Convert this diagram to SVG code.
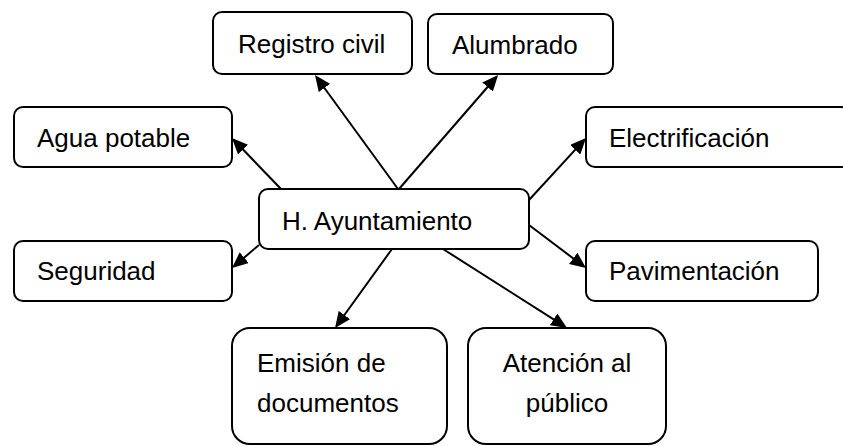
<svg xmlns="http://www.w3.org/2000/svg" width="843" height="446" viewBox="0 0 843 446">
<style>
.box{fill:#fff;stroke:#000;stroke-width:2}
.lbl{font-family:"Liberation Sans",Arial,sans-serif;font-size:26px;fill:#000}
.mid{text-anchor:middle}
.con{stroke:#000;stroke-width:2;fill:none;marker-end:url(#ah)}
</style>
<defs>
<marker id="ah" markerUnits="userSpaceOnUse" markerWidth="16" markerHeight="14" refX="8" refY="7" orient="auto">
<path d="M0,0 L16,7 L0,14 z" fill="#000"/>
</marker>
</defs>
<rect width="843" height="446" fill="#fff"/>
<g id="connectors">
<line class="con" x1="398" y1="189" x2="319.7" y2="81.5"/>
<line class="con" x1="281" y1="189" x2="237.5" y2="143.8"/>
<line class="con" x1="399" y1="189" x2="492.8" y2="81"/>
<line class="con" x1="529" y1="200" x2="580.6" y2="143.9"/>
<line class="con" x1="259" y1="245" x2="238.1" y2="262.8"/>
<line class="con" x1="392" y1="249" x2="339.7" y2="321.5"/>
<line class="con" x1="529" y1="225" x2="579.6" y2="263.2"/>
<line class="con" x1="443" y1="249" x2="560.3" y2="323.7"/>
</g>
<g id="n-ayuntamiento"><rect class="box" x="259" y="189" width="270" height="60" rx="9"/><text class="lbl" x="282" y="230">H. Ayuntamiento</text></g>
<g id="n-registro"><rect class="box" x="213" y="12" width="199" height="62" rx="9"/><text class="lbl" x="238" y="53">Registro civil</text></g>
<g id="n-alumbrado"><rect class="box" x="428" y="14" width="185" height="60" rx="9"/><text class="lbl" x="452" y="54">Alumbrado</text></g>
<g id="n-agua"><rect class="box" x="14" y="107" width="218" height="60" rx="9"/><text class="lbl" x="37" y="147">Agua potable</text></g>
<g id="n-electrificacion"><rect class="box" x="586" y="107" width="264" height="60" rx="9"/><text class="lbl" x="609" y="147">Electrificación</text></g>
<g id="n-seguridad"><rect class="box" x="14" y="241" width="218" height="60" rx="9"/><text class="lbl" x="37" y="280">Seguridad</text></g>
<g id="n-pavimentacion"><rect class="box" x="586" y="241" width="232" height="60" rx="9"/><text class="lbl" x="609" y="280">Pavimentación</text></g>
<g id="n-emision"><rect class="box" x="232" y="328" width="215" height="116" rx="18"/><text class="lbl" x="257" y="372">Emisión de</text><text class="lbl" x="257" y="412">documentos</text></g>
<g id="n-atencion"><rect class="box" x="468" y="328" width="198" height="116" rx="18"/><text class="lbl mid" x="567" y="372">Atención al</text><text class="lbl mid" x="567" y="412">público</text></g>
</svg>
